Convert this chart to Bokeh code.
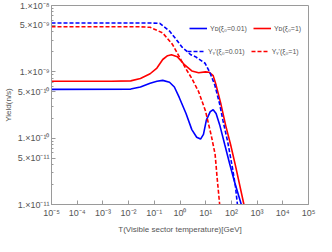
import numpy as np
from bokeh.plotting import figure
from bokeh.models import FixedTicker, Legend, LegendItem, Range1d
from bokeh.embed import file_html
from bokeh.resources import INLINE

# Values, as log10(T [GeV]) and log10(Yield [n/s])
# Y_D, xi0 = 0.01 (blue solid)
yd001_logT = [-5, -1.917, -1.54, -1.162, -0.898, -0.672, -0.408, -0.219, -0.03, 0.234, 0.460, 0.649,
              0.800, 0.913, 1.026, 1.177, 1.291, 1.404, 1.555, 1.743, 1.932, 2.121, 2.385, 2.45]
yd001_logY = [-9.264, -9.26, -9.229, -9.171, -9.143, -9.129, -9.157, -9.229, -9.386, -9.629, -9.871, -9.986,
              -10.014, -9.943, -9.729, -9.6, -9.571, -9.629, -9.814, -10.1, -10.386, -10.657, -11.0, -11.1]
# Y_D, xi0 = 1 (red solid)
yd1_logT = [-5, -2.668, -1.917, -1.54, -1.162, -0.898, -0.672, -0.483, -0.332, -0.106, 0.158, 0.460, 0.725,
            0.989, 1.140, 1.291, 1.404, 1.592, 1.781, 1.970, 2.158, 2.487, 2.55]
yd1_logY = [-9.143, -9.143, -9.136, -9.1, -9.029, -8.943, -8.814, -8.757, -8.743, -8.771, -8.886, -8.986, -9.014,
            -9.0, -9.007, -9.057, -9.2, -9.486, -9.814, -10.1, -10.414, -11.0, -11.12]
# Y_gamma', xi0 = 0.01 (blue dashed)
yg001_logT = [-5, -1.16, -0.785, -0.408, -0.143, 0.083, 0.423, 0.60, 0.977, 1.166, 1.355, 1.543, 1.668,
              1.857, 2.045, 2.158, 2.234, 2.28]
yg001_logY = [-8.264, -8.264, -8.27, -8.386, -8.514, -8.629, -8.743, -8.771, -8.871, -9.014, -9.2, -9.486, -9.729,
              -10.057, -10.457, -10.729, -11.0, -11.2]
# Y_gamma', xi0 = 1 (red dashed)
yg1_logT = [-5, -1.54, -1.162, -0.672, -0.294, -0.03, 0.234, 0.460, 0.725, 0.989, 1.215, 1.366, 1.442, 1.543, 1.58]
yg1_logY = [-8.321, -8.321, -8.329, -8.414, -8.586, -8.771, -8.957, -9.1, -9.3, -9.586, -9.957, -10.243, -10.586,
            -11.0, -11.2]

x_ticks = [1e-5, 1e-4, 1e-3, 1e-2, 1e-1, 1e0, 1e1, 1e2, 1e3, 1e4, 1e5]
x_tick_labels = ["10⁻⁵", "10⁻⁴", "10⁻³", "10⁻²", "10⁻¹", "10⁰", "10¹", "10²", "10³", "10⁴", "10⁵"]
y_ticks = [1e-8, 5e-9, 1e-9, 5e-10, 1e-10, 5e-11, 1e-11]
y_tick_labels = ["1.×10⁻⁸", "5.×10⁻⁹", "1.×10⁻⁹", "5.×10⁻¹⁰", "1.×10⁻¹⁰", "5.×10⁻¹¹", "1.×10⁻¹¹"]
y_minor = [m * 10.0 ** e for e in (-11, -10, -9) for m in (2, 3, 4, 6, 7, 8, 9)]

labels = ["Yᴅ(ξ₀=0.01)", "Yᴅ(ξ₀=1)", "Yᵧ'(ξ₀=0.01)", "Yᵧ'(ξ₀=1)"]

FONT = "Liberation Sans"
GRAY = "#9a9a9a"
TXT = "#555555"

p = figure(width=316, height=236, x_axis_type="log", y_axis_type="log",
           x_range=Range1d(1e-5, 1e5), y_range=Range1d(1e-11, 1e-8),
           output_backend="svg", toolbar_location=None,
           min_border_left=50, min_border_right=8, min_border_top=5, min_border_bottom=28)
p.xgrid.visible = False
p.ygrid.visible = False
p.outline_line_color = GRAY
p.background_fill_color = "white"
p.border_fill_color = "white"

def tolin(a):
    return np.power(10.0, np.array(a))

r1 = p.line(tolin(yd001_logT), tolin(yd001_logY), line_color="#0000ff", line_width=1.6)
r2 = p.line(tolin(yd1_logT), tolin(yd1_logY), line_color="#ff0000", line_width=1.6)
r3 = p.line(tolin(yg001_logT), tolin(yg001_logY), line_color="#0000ff", line_width=1.6, line_dash="4 2")
r4 = p.line(tolin(yg1_logT), tolin(yg1_logY), line_color="#ff0000", line_width=1.6, line_dash="4 2")

p.xaxis.ticker = FixedTicker(ticks=x_ticks, minor_ticks=[])
p.xaxis.major_label_overrides = dict(zip(x_ticks, x_tick_labels))
p.yaxis.ticker = FixedTicker(ticks=y_ticks, minor_ticks=y_minor)
p.yaxis.major_label_overrides = dict(zip(y_ticks, y_tick_labels))

for ax in (p.xaxis[0], p.yaxis[0]):
    ax.axis_line_color = GRAY
    ax.major_tick_line_color = GRAY
    ax.minor_tick_line_color = GRAY
    ax.major_tick_in = 4
    ax.major_tick_out = 0
    ax.minor_tick_in = 2
    ax.minor_tick_out = 0
    ax.major_label_text_font = FONT
    ax.major_label_text_font_size = "9px"
    ax.major_label_text_color = TXT
    ax.axis_label_text_font = FONT
    ax.axis_label_text_font_size = "8px"
    ax.axis_label_text_color = TXT
    ax.axis_label_text_font_style = "normal"
    ax.major_label_standoff = 3

p.xaxis.axis_label = "T(Visible sector temperature)[GeV]"
p.yaxis.axis_label = "Yield(n/s)"
p.xaxis.axis_label_standoff = 4
p.yaxis.axis_label_standoff = 2
p.yaxis.major_label_standoff = 2

def make_legend(items, loc):
    lg = Legend(items=items, location=loc, orientation="horizontal")
    lg.padding = 0
    lg.margin = 0
    lg.spacing = 6
    lg.border_line_color = None
    lg.background_fill_alpha = 0
    lg.glyph_width = 18
    lg.glyph_height = 10
    lg.label_height = 10
    lg.label_standoff = 3
    lg.label_text_font = FONT
    lg.label_text_font_size = "7px"
    lg.label_text_color = TXT
    return lg

leg1 = make_legend([LegendItem(label=labels[0], renderers=[r1]),
                    LegendItem(label=labels[1], renderers=[r2])], (138, 171))
leg2 = make_legend([LegendItem(label=labels[2], renderers=[r3]),
                    LegendItem(label=labels[3], renderers=[r4])], (136, 148))
p.add_layout(leg1, "center")
p.add_layout(leg2, "center")

open("out.html", "w").write(file_html(p, INLINE))
